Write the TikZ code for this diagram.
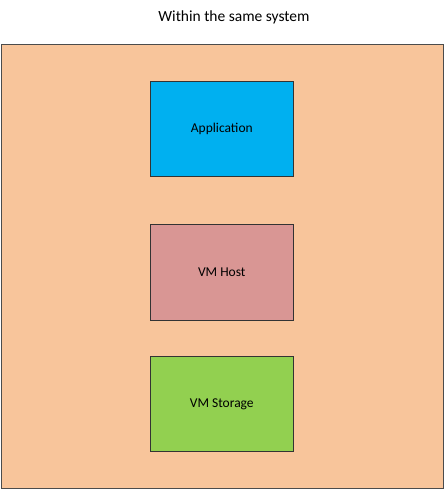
\documentclass[tikz,border=0pt]{standalone}
\usepackage{fontspec}
\setmainfont{Carlito}
\usepackage{tikz}
\definecolor{sysfill}{HTML}{F8C59B}
\definecolor{appfill}{HTML}{00B0F0}
\definecolor{hostfill}{HTML}{D99694}
\definecolor{storefill}{HTML}{92D050}
\tikzset{
	layer/.style={draw=black!80, line width=1pt, minimum width=143.5pt, minimum height=95.5pt, inner sep=0pt, font=\fontsize{13.5}{16}\selectfont},
}

\begin{document}
\begin{tikzpicture}[x=1pt, y=-1pt]
	\useasboundingbox (0,0) rectangle (444,489);
	\node [draw=black!70, line width=1pt, fill=sysfill, minimum width=442pt, minimum height=443pt, inner sep=0pt] (system) at (222, 266.5) {};
	\node [font=\fontsize{15.5}{18}\selectfont] (title) at (234, 17) {Within the same system};
	\node [layer, fill=appfill] (app) at (221.8, 128.8) {Application};
	\node [layer, fill=hostfill] (host) at (221.8, 272.3) {VM Host};
	\node [layer, fill=storefill] (storage) at (221.8, 403.8) {VM Storage};
\end{tikzpicture}
\end{document}
